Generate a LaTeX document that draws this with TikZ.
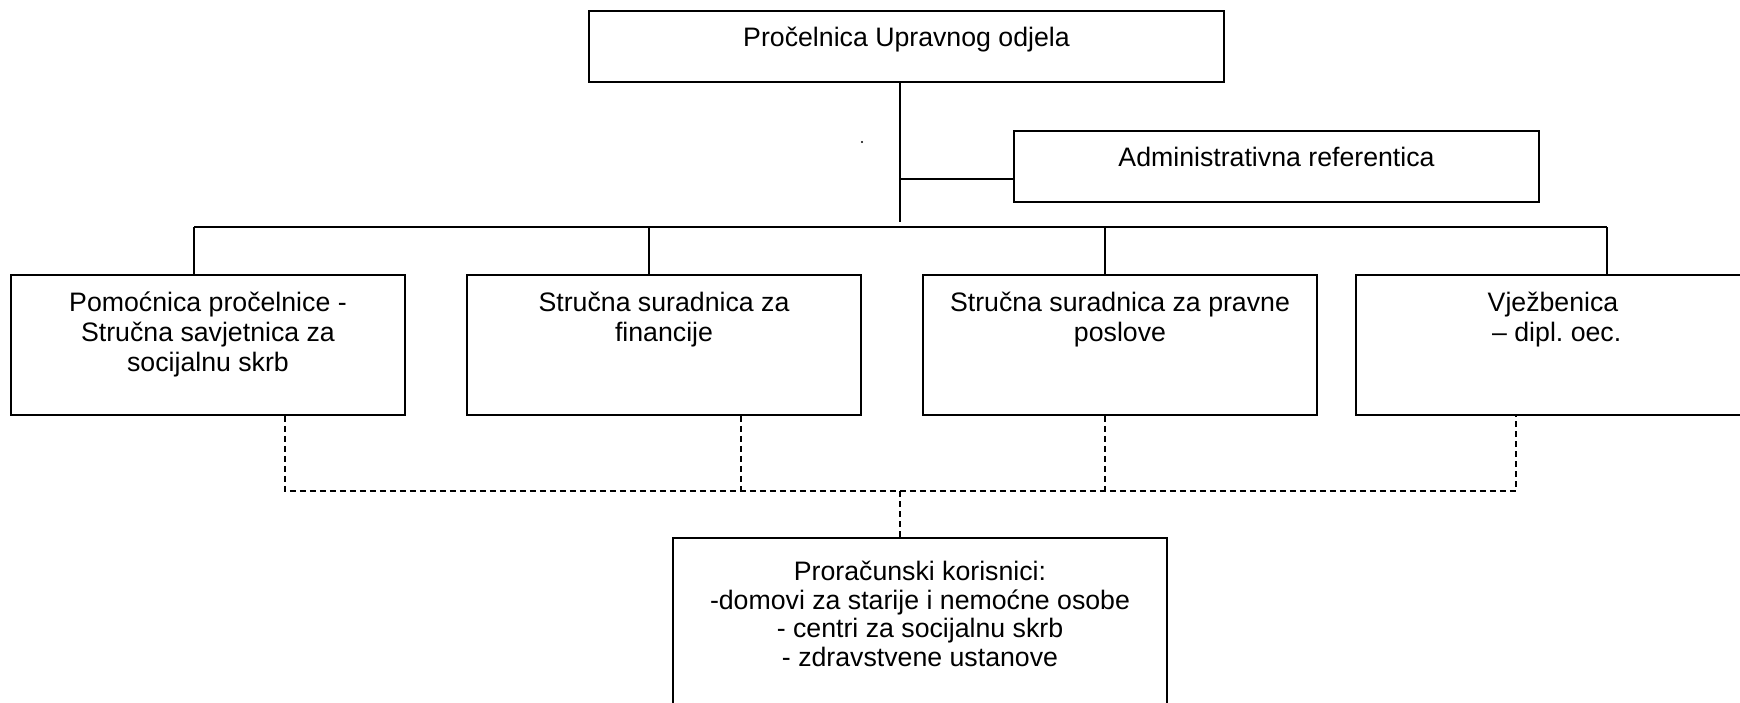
\documentclass[tikz,border=0pt]{standalone}
\usepackage{fontspec}
\setmainfont{Liberation Sans}
\newcommand\fstrut{\rule{0pt}{26pt}}
\frenchspacing
\begin{document}
\begin{tikzpicture}[x=1pt,y=-1pt,
  box/.style={draw, line width=1.6pt, inner sep=0pt},
  lbl/.style={anchor=north, align=center, inner sep=0pt, font=\fontsize{26.7}{30}\selectfont},
  conn/.style={line width=1.4pt},
  dashconn/.style={line width=1.5pt, dash pattern=on 6pt off 4pt}]
\useasboundingbox (0,0) rectangle (1740,702);
\clip (0,0) rectangle (1740,702);
\fill[white] (0,0) rectangle (1740,702);

% boxes
\node[box, minimum width=635pt, minimum height=71pt] (head) at (906.5,46.5) {};
\node[box, minimum width=525pt, minimum height=71pt] (admin) at (1276.5,166.5) {};
\node[box, minimum width=394pt, minimum height=140pt] (b1) at (208,345) {};
\node[box, minimum width=394pt, minimum height=140pt] (b2) at (664,345) {};
\node[box, minimum width=394pt, minimum height=140pt] (b3) at (1120,345) {};
\node[box, minimum width=394pt, minimum height=140pt] (b4) at (1553,345) {};
\node[box, minimum width=494pt, minimum height=222pt] (bottom) at (920,649) {};

% labels
\node[lbl] (thead) at ([yshift=-10pt]head.north) {\fstrut Pročelnica Upravnog odjela};
\node[lbl] (tadmin) at ([yshift=-10pt]admin.north) {\fstrut Administrativna referentica};
\node[lbl] (tb1) at ([yshift=-11pt]b1.north) {\fstrut Pomoćnica pročelnice -\\Stručna savjetnica za\\socijalnu skrb};
\node[lbl] (tb2) at ([yshift=-11pt]b2.north) {\fstrut Stručna suradnica za\\financije};
\node[lbl] (tb3) at ([yshift=-11pt]b3.north) {\fstrut Stručna suradnica za pravne\\poslove};
\node[lbl] (tb4) at ([yshift=-11pt]b4.north) {\fstrut Vježbenica\\\ – dipl. oec.};
\node[lbl, font=\fontsize{26.7}{28.7}\selectfont] (tbottom) at ([yshift=-17pt]bottom.north) {\fstrut Proračunski korisnici:\\-domovi za starije i nemoćne osobe\\- centri za socijalnu skrb\\- zdravstvene ustanove};

% solid connectors
\coordinate (trunk) at (900,222);
\coordinate (aj) at (900,179);
\draw[conn] (trunk |- head.south) -- (trunk);
\draw[conn] (aj) -- (aj -| admin.west);
\coordinate (d1) at (194,227);
\coordinate (d2) at (649,227);
\coordinate (d3) at (1105,227);
\coordinate (d4) at (1607,227);
\draw[line width=1.8pt] (d1) -- (d4);
\draw[conn] (d1) -- (d1 |- b1.north);
\draw[conn] (d2) -- (d2 |- b2.north);
\draw[conn] (d3) -- (d3 |- b3.north);
\draw[conn] (d4) -- (d4 |- b4.north);

% dashed connectors
\coordinate (e1) at (285,491);
\coordinate (e2) at (741,491);
\coordinate (e3) at (1105,491);
\coordinate (e4) at (1516,491);
\coordinate (em) at (900,491);
\draw[dashconn] (e1 |- b1.south) -- (e1) -- (e4) -- (e4 |- b4.south);
\draw[dashconn] (e2 |- b2.south) -- (e2);
\draw[dashconn] (e3 |- b3.south) -- (e3);
\draw[dashconn] (em) -- (em |- bottom.north);

% stray dot
\fill (862,142) circle (1.2pt);
\end{tikzpicture}
\end{document}
